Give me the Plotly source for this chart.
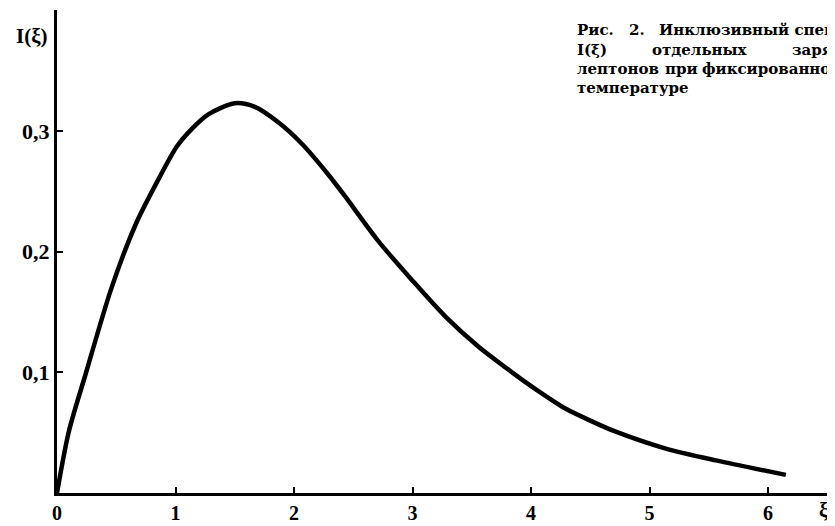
import plotly.graph_objects as go

# curve data
xi = [0, 0.10, 0.24, 0.46, 0.67, 0.84, 1.01, 1.14, 1.28, 1.5, 1.67, 1.87, 2.07,
      2.28, 2.43, 2.71, 3.0, 3.28, 3.56, 3.84, 4.01, 4.29, 4.5, 4.71, 5.13, 5.56, 6.15]
I_xi = [0, 0.051, 0.098, 0.170, 0.224, 0.257, 0.287, 0.302, 0.314, 0.323, 0.320,
        0.307, 0.289, 0.265, 0.246, 0.209, 0.176, 0.146, 0.121, 0.100, 0.088,
        0.070, 0.060, 0.051, 0.037, 0.027, 0.015]

x_ticks = [0, 1, 2, 3, 4, 5, 6]
x_ticklabels = ["0", "1", "2", "3", "4", "5", "6"]
y_ticks = [0.1, 0.2, 0.3]
y_ticklabels = ["0,1", "0,2", "0,3"]

caption_words = [
    # (text, x in data units, line y in data units)
    ("Рис.", 4.371, 0.3837), ("2.", 4.810, 0.3837), ("Инклюзивный спектр", 5.063, 0.3837),
    ("I(ξ)", 4.371, 0.3671), ("отдельных", 5.004, 0.3671), ("заряженных", 6.186, 0.3671),
    ("лептонов", 4.371, 0.3514), ("при", 5.114, 0.3514), ("фиксированной", 5.426, 0.3514),
    ("температуре", 4.371, 0.3356),
]

FONT = "Liberation Serif"
CAP_FONT = "DejaVu Serif"

fig = go.Figure()
fig.add_trace(go.Scatter(
    x=xi, y=I_xi, mode="lines",
    line=dict(color="black", width=4.5, shape="spline", smoothing=0.8),
    showlegend=False, hoverinfo="skip",
))

# the page body has an 8px margin, so the figure is 8px smaller and margins compensate
fig.update_layout(
    width=827, height=518,
    margin=dict(l=49, r=0, t=2, b=33, pad=0),
    paper_bgcolor="white", plot_bgcolor="white",
    xaxis=dict(
        range=[0, 6.565], showgrid=False, zeroline=False, automargin=False,
        showline=True, linecolor="black", linewidth=3,
        ticks="inside", ticklen=6, tickwidth=2, tickcolor="black",
        tickvals=x_ticks, ticktext=x_ticklabels,
        tickfont=dict(family=FONT, size=20, color="black", weight="bold"),
    ),
    yaxis=dict(
        range=[0, 0.4003], showgrid=False, zeroline=False, automargin=False,
        showline=True, linecolor="black", linewidth=3,
        ticks="inside", ticklen=6, tickwidth=2, tickcolor="black",
        tickvals=y_ticks, ticktext=y_ticklabels,
        tickfont=dict(family=FONT, size=22, color="black", weight="bold"),
    ),
)

annotations = [
    dict(text="I(ξ)", x=-0.032, y=0.946, xref="paper", yref="paper", showarrow=False,
         font=dict(family=FONT, size=21, color="black", weight="bold"),
         xanchor="center", yanchor="middle"),
    dict(text="ξ", x=0.985, y=-0.035, xref="paper", yref="paper", showarrow=False,
         font=dict(family=FONT, size=20, color="black", weight="bold"),
         xanchor="center", yanchor="middle"),
]
for text, x, y in caption_words:
    annotations.append(dict(text=text, x=x, y=y, xref="x", yref="y", showarrow=False,
                            font=dict(family=CAP_FONT, size=15, color="black", weight="bold"),
                            xanchor="left", yanchor="middle"))
fig.update_layout(annotations=annotations)

fig.write_html("out.html")
